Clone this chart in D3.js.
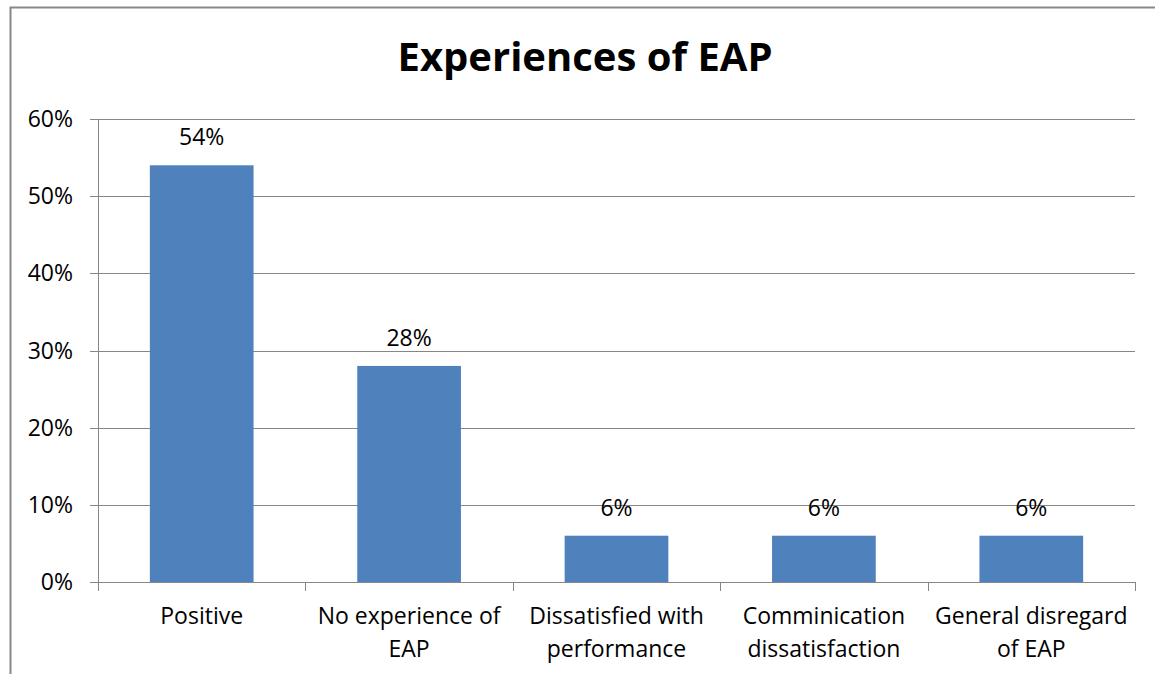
<!DOCTYPE html>
<html>
<head>
<meta charset="utf-8">
<script src="https://cdn.jsdelivr.net/npm/d3@7"></script>
<style>
  html, body { margin: 0; padding: 0; background: #fff; }
  svg { display: block; }
  text { font-family: "Open Sans", "Noto Sans", sans-serif; fill: #000; }
</style>
</head>
<body>
<svg id="chart" width="1155" height="674"></svg>
<script>
// Survey responses: share of respondents per experience category
const categories = [
  ["Positive"],
  ["No experience of", "EAP"],
  ["Dissatisfied with", "performance"],
  ["Comminication", "dissatisfaction"],
  ["General disregard", "of EAP"]
];
const values = [0.54, 0.28, 0.06, 0.06, 0.06];
const yTicks = [0, 0.1, 0.2, 0.3, 0.4, 0.5, 0.6];
const title = "Experiences of EAP";

const svg = d3.select("#chart");
const plot = { left: 98, right: 1135, top: 119, bottom: 582 };
const gridColor = "#868686";
const barColor = "#4F81BD";
const labelSize = 23;

// Outer chart frame (extends past the visible window on right and bottom)
svg.append("rect")
  .attr("x", 10.5).attr("y", 7.5)
  .attr("width", 1200).attr("height", 700)
  .attr("fill", "#fff")
  .attr("stroke", "#888").attr("stroke-width", 2);

const x = d3.scaleBand()
  .domain(d3.range(categories.length))
  .range([plot.left, plot.right])
  .paddingInner(0.5).paddingOuter(0.25);

const y = d3.scaleLinear()
  .domain([0, 0.6])
  .range([plot.bottom, plot.top]);

// Horizontal gridlines with short outside ticks
svg.append("g")
  .selectAll("line")
  .data(yTicks)
  .join("line")
  .attr("x1", plot.left - 8).attr("x2", plot.right)
  .attr("y1", d => Math.round(y(d)) + 0.5).attr("y2", d => Math.round(y(d)) + 0.5)
  .attr("stroke", gridColor).attr("stroke-width", 1);

// Y axis labels
svg.append("g")
  .selectAll("text")
  .data(yTicks)
  .join("text")
  .attr("x", 73)
  .attr("y", d => y(d))
  .attr("dy", "0.35em")
  .attr("text-anchor", "end")
  .style("font-size", labelSize + "px")
  .text(d3.format(".0%"));

// Bars
svg.append("g")
  .selectAll("rect")
  .data(values)
  .join("rect")
  .attr("x", (d, i) => x(i))
  .attr("y", d => y(d))
  .attr("width", x.bandwidth())
  .attr("height", d => y(0) - y(d))
  .attr("fill", barColor);

// Value labels above the bars
svg.append("g")
  .selectAll("text")
  .data(values)
  .join("text")
  .attr("x", (d, i) => x(i) + x.bandwidth() / 2)
  .attr("y", d => y(d) - 20)
  .attr("text-anchor", "middle")
  .style("font-size", labelSize + "px")
  .text(d3.format(".0%"));

// Y axis line
svg.append("line")
  .attr("x1", plot.left + 0.5).attr("x2", plot.left + 0.5)
  .attr("y1", plot.top).attr("y2", plot.bottom)
  .attr("stroke", gridColor).attr("stroke-width", 1);

// X axis line and category boundary ticks
const boundaries = d3.range(categories.length + 1).map(i => plot.left + i * (plot.right - plot.left) / categories.length);
svg.append("line")
  .attr("x1", plot.left).attr("x2", plot.right)
  .attr("y1", Math.round(y(0)) + 0.5).attr("y2", Math.round(y(0)) + 0.5)
  .attr("stroke", gridColor).attr("stroke-width", 1);
svg.append("g")
  .selectAll("line")
  .data(boundaries)
  .join("line")
  .attr("x1", d => Math.round(d) + 0.5).attr("x2", d => Math.round(d) + 0.5)
  .attr("y1", Math.round(y(0))).attr("y2", Math.round(y(0)) + 9)
  .attr("stroke", gridColor).attr("stroke-width", 1);

// Category labels (wrapped onto two lines where needed)
const catG = svg.append("g")
  .selectAll("text")
  .data(categories)
  .join("text")
  .attr("x", (d, i) => x(i) + x.bandwidth() / 2)
  .attr("y", 624)
  .attr("text-anchor", "middle")
  .style("font-size", labelSize + "px");
catG.selectAll("tspan")
  .data(d => d)
  .join("tspan")
  .attr("x", function () { return this.parentNode.getAttribute("x"); })
  .attr("dy", (d, i) => i === 0 ? 0 : 33)
  .text(d => d);

// Title
svg.append("text")
  .attr("x", 585)
  .attr("y", 71)
  .attr("text-anchor", "middle")
  .style("font-size", "40px")
  .style("font-weight", "bold")
  .text(title);
</script>
</body>
</html>
